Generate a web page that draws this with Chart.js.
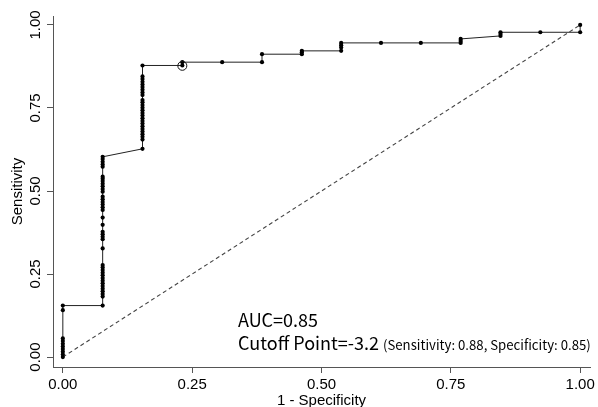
<!DOCTYPE html>
<html>
<head>
<meta charset="utf-8">
<script src="https://cdn.jsdelivr.net/npm/chart.js@4.4.1/dist/chart.umd.min.js"></script>
<style>
  html, body { margin: 0; padding: 0; background: #fff; }
  #roc { display: block; }
</style>
</head>
<body>
<canvas id="roc" width="598" height="407"></canvas>
<script>
// 1 - specificity steps (13 negatives)
var fprSteps = [0, 0.077, 0.154, 0.231, 0.308, 0.385, 0.462, 0.538, 0.615, 0.692, 0.769, 0.846, 0.923, 1.0];

var tprCol0  = [0, 0.008, 0.016, 0.024, 0.032, 0.040, 0.048, 0.056, 0.141, 0.155];
var tprCol1  = [0.155, 0.182, 0.19, 0.198, 0.206, 0.214, 0.222, 0.23, 0.238, 0.246, 0.254, 0.262, 0.27, 0.277,
                0.327, 0.355, 0.362, 0.37, 0.377, 0.398, 0.42, 0.443, 0.451, 0.459, 0.467, 0.475, 0.483,
                0.498, 0.506, 0.514, 0.522, 0.53, 0.537, 0.543, 0.573, 0.58, 0.588, 0.596, 0.603];
var tprCol2  = [0.627, 0.655, 0.663, 0.671, 0.679, 0.687, 0.695, 0.703, 0.711, 0.719, 0.727, 0.735, 0.743,
                0.751, 0.759, 0.767, 0.774, 0.789, 0.797, 0.805, 0.813, 0.821, 0.829, 0.837, 0.845, 0.878];
var tprCol3  = [0.878, 0.888];
var tprCol4  = [0.888];
var tprCol5  = [0.888, 0.912];
var tprCol6  = [0.912, 0.918, 0.922];
var tprCol7  = [0.922, 0.932, 0.939, 0.946];
var tprCol8  = [0.946];
var tprCol9  = [0.946];
var tprCol10 = [0.946, 0.952, 0.958];
var tprCol11 = [0.967, 0.973, 0.978];
var tprCol12 = [0.978];
var tprCol13 = [0.978, 1.0];

var tprColumns = [tprCol0, tprCol1, tprCol2, tprCol3, tprCol4, tprCol5, tprCol6,
                  tprCol7, tprCol8, tprCol9, tprCol10, tprCol11, tprCol12, tprCol13];

var cutoffX = 0.231;
var cutoffY = 0.877;

var tickValues = [0, 0.25, 0.5, 0.75, 1];
var tickLabels = ["0.00", "0.25", "0.50", "0.75", "1.00"];

var aucText = "AUC=0.85";
var cutoffText = "Cutoff Point=-3.2";
var cutoffDetail = "(Sensitivity: 0.88, Specificity: 0.85)";

// build the point list, column by column
var rocPoints = [];
fprSteps.forEach(function(fx, i) {
  tprColumns[i].forEach(function(ty) {
    rocPoints.push({x: fx, y: ty});
  });
});

var axisFont = {family: "'Liberation Sans', Arial, sans-serif", size: 15};
var noteFont = "'Noto Sans CJK JP', 'Noto Sans', sans-serif";

// rotated y tick labels (R style) and the AUC note
var rocText = {
  id: 'rocText',
  afterDraw: function(chart) {
    var ctx = chart.ctx;
    var ys = chart.scales.y;
    ctx.save();
    ctx.fillStyle = '#000';
    ctx.font = '15px ' + axisFont.family;
    ctx.textAlign = 'center';
    ctx.textBaseline = 'middle';
    tickValues.forEach(function(v, i) {
      var py = ys.getPixelForValue(v);
      ctx.save();
      ctx.translate(36, py);
      ctx.rotate(-Math.PI / 2);
      ctx.fillText(tickLabels[i], 0, 0);
      ctx.restore();
    });

    ctx.textAlign = 'left';
    ctx.textBaseline = 'alphabetic';
    ctx.font = '18px ' + noteFont;
    ctx.fillText(aucText, 238, 327);
    ctx.fillText(cutoffText, 238, 350);
    var w = ctx.measureText(cutoffText).width;
    ctx.font = '13.2px ' + noteFont;
    ctx.fillText(cutoffDetail, 238 + w + 4, 350);
    ctx.restore();
  }
};

var ctx = document.getElementById('roc');
var rocChart = new Chart(ctx, {
  type: 'scatter',
  data: {
    datasets: [
      {
        label: 'ROC',
        data: rocPoints,
        showLine: true,
        borderColor: '#222',
        borderWidth: 1,
        pointRadius: 2.1,
        pointBackgroundColor: '#000',
        pointBorderWidth: 0,
        order: 1
      },
      {
        label: 'cutoff',
        data: [{x: cutoffX, y: cutoffY}],
        showLine: false,
        pointRadius: 4.5,
        pointBackgroundColor: 'rgba(0,0,0,0)',
        pointBorderColor: '#111',
        pointBorderWidth: 1,
        order: 0
      },
      {
        label: 'chance',
        data: [{x: 0, y: 0}, {x: 1, y: 1}],
        showLine: true,
        borderColor: '#444',
        borderWidth: 1.1,
        borderDash: [4, 3],
        pointRadius: 0,
        order: 2
      }
    ]
  },
  options: {
    responsive: false,
    animation: false,
    devicePixelRatio: 1,
    layout: {padding: {top: 16, right: 8, left: 0, bottom: 0}},
    plugins: {
      legend: {display: false},
      tooltip: {enabled: false}
    },
    scales: {
      x: {
        type: 'linear',
        min: -0.019,
        max: 1.019,
        afterBuildTicks: function(scale) {
          scale.ticks = tickValues.map(function(v) { return {value: v}; });
        },
        afterFit: function(scale) { scale.height = 40; },
        ticks: {
          color: '#000',
          font: axisFont,
          padding: 3,
          maxRotation: 0,
          callback: function(v) { return v.toFixed(2); }
        },
        grid: {drawOnChartArea: false, drawTicks: true, tickLength: 6, color: '#555'},
        border: {display: true, color: '#555', width: 1},
        title: {
          display: true,
          text: '1 - Specificity',
          color: '#000',
          font: axisFont,
          padding: {top: 0, bottom: -3}
        }
      },
      y: {
        type: 'linear',
        min: -0.03,
        max: 1.027,
        afterBuildTicks: function(scale) {
          scale.ticks = tickValues.map(function(v) { return {value: v}; });
        },
        afterFit: function(scale) { scale.width = 53; },
        ticks: {display: false},
        grid: {drawOnChartArea: false, drawTicks: true, tickLength: 6, color: '#555'},
        border: {display: true, color: '#555', width: 1},
        title: {
          display: true,
          text: 'Sensitivity',
          color: '#000',
          font: axisFont,
          padding: {top: 9, bottom: 0}
        }
      }
    }
  },
  plugins: [rocText]
});
</script>
</body>
</html>
